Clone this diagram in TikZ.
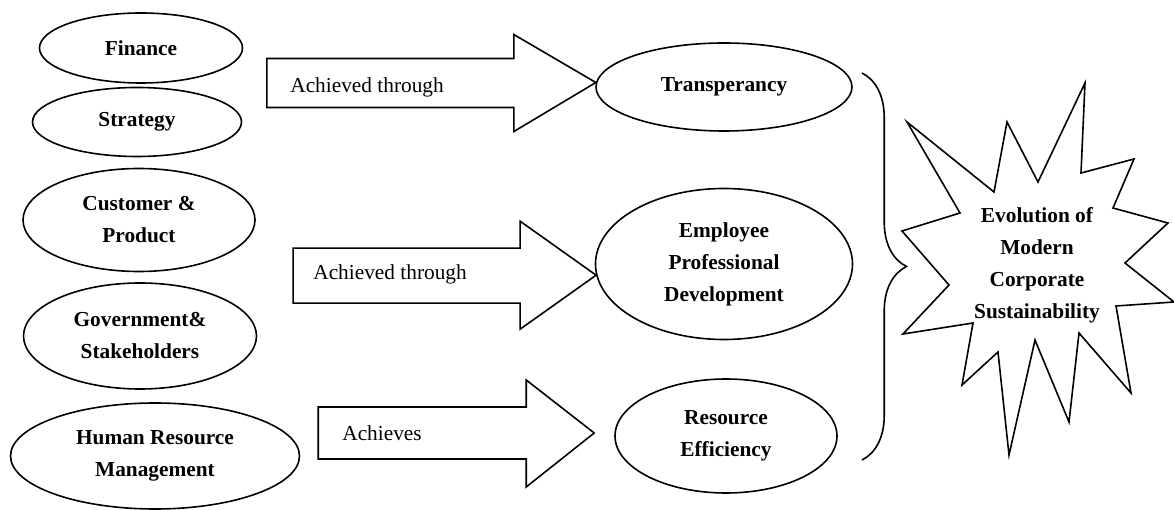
\documentclass[tikz,border=0pt]{standalone}
\usepackage{fontspec}
\setmainfont{Liberation Serif}
\usepackage{tikz}
\usetikzlibrary{calc,
                decorations.pathreplacing,
                shapes}
\tikzstyle{area} = [ellipse,draw,line width=0.9pt,inner sep=0pt,align=center,font=\bfseries\fontsize{12}{18}\selectfont]
\tikzstyle{bigarrow} = [draw,line width=0.9pt]
\tikzstyle{lbl} = [anchor=base west,inner sep=0pt,font=\fontsize{12}{14}\selectfont]
\tikzstyle{burst} = [draw,line width=0.9pt]
\tikzstyle{bracket} = [draw,line width=0.9pt,decorate,decoration={brace,amplitude=25pt}]
\tikzset{esize/.style 2 args={minimum width=#1*0.5625pt,minimum height=#2*0.5625pt}}

\begin{document}
\begin{tikzpicture}[x=0.5625pt,y=-0.5625pt]
        \useasboundingbox (0,0) rectangle (1174,510);

        % left column
        \node[area,esize={203}{70}] (pf1) at (141,48) {Finance};
        \node[area,esize={209}{69}] (pf2) at (137,122) {Strategy};
        \node[area,esize={232}{103}] (pf3) at (139,220) {Customer \&\\Product};
        \node[area,esize={233}{106}] (pf4) at (140,336) {Government\&\\Stakeholders};
        \node[area,esize={289}{106}] (pf5) at (155,456) {Human Resource\\Management};

        % right column
        \node[area,esize={256}{88}] (rs1) at (724,87) {Transperancy};
        \node[area,esize={257}{151}] (rs2) at (724,264) {Employee\\Professional\\Development};
        \node[area,esize={222}{114}] (rs3) at (726,436) {Resource\\Efficiency};

        % block arrows
        \node[lbl] (ar1) at (290,93) {Achieved through};
        \node[lbl] (ar2) at (313,280) {Achieved through};
        \node[lbl] (ar3) at (342,441) {Achieves};
        \draw[bigarrow] (rs1.178) -- ++(-82,-48) -- ++(0,24) -- ++(-247,0) -- ++(0,49) -- ++(247,0) -- ++(0,24) -- cycle;
        \draw[bigarrow] (rs2.185) -- ++(-76,-54) -- ++(0,27) -- ++(-227,0) -- ++(0,55) -- ++(227,0) -- ++(0,26) -- cycle;
        \draw[bigarrow] ($(rs3.west)+(-20,-3)$) -- ++(-68,-53) -- ++(0,27) -- ++(-208,0) -- ++(0,52) -- ++(208,0) -- ++(0,28) -- cycle;

        % brace and star
        \coordinate (bt) at (862,73);
        \coordinate (bb) at (862,460);
        \draw[bracket] (bt) -- (bb);
        \draw[burst] (1085,83) -- (1081,173) -- (1134,159) -- (1113,208) -- (1168,223) -- (1125,263)
            -- (1174,302) -- (1116,306) -- (1131,393) -- (1079,333) -- (1069,422) -- (1035,340)
            -- (1009,455) -- (998,352) -- (962,385) -- (973,323) -- (903,334) -- (949,285)
            -- (902,231) -- (960,213) -- (907,122) -- (994,192) -- (1007,122) -- (1038,182) -- cycle;
        \node[align=center,font=\bfseries\fontsize{12}{18}\selectfont] (ev) at (1037,265) {Evolution of\\Modern\\Corporate\\Sustainability};
    \end{tikzpicture}
\end{document}
